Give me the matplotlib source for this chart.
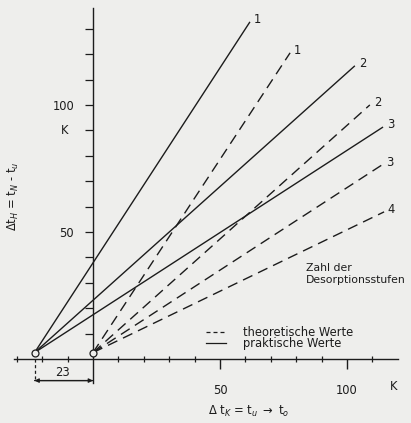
import matplotlib.pyplot as plt
from matplotlib import rcParams
import numpy as np

rcParams["font.family"] = ["DejaVu Sans"]
font_size = 8.3
ink = "#1c1c1c"
bg = "#eeeeec"

# practical values (solid): start point shared, end points per number of stages
prak_start = (-23, 2.5)
prak_labels = ["1", "2", "3"]
prak_end_x = [61.8, 103.1, 114.2]
prak_end_y = [132.7, 115.4, 91.3]

# theoretical values (dashed)
theo_start = (0, 2.5)
theo_labels = ["1", "2", "3", "4"]
theo_end_x = [77.6, 109.0, 113.8, 114.6]
theo_end_y = [120.5, 100.0, 76.4, 57.9]

x_major = [50, 100]
x_minor = [-30, -20, -10, 10, 20, 30, 40, 60, 70, 80, 90, 110]
y_major = [50, 100]
y_minor = [10, 20, 30, 40, 60, 70, 80, 90, 110, 120, 130]


def plot_stages():
    fig = plt.figure(figsize=(4.11, 4.23), dpi=100, facecolor=bg)
    ax = fig.add_axes([0, 0, 1, 1], facecolor=bg)
    ax.set_xlim(-36.6, 125.2)
    ax.set_ylim(-25.2, 141.3)

    for s in ["top", "right"]:
        ax.spines[s].set_visible(False)
    ax.spines["left"].set_position(("data", 0))
    ax.spines["bottom"].set_position(("data", 0))
    ax.spines["left"].set_bounds(-9.5, 138)
    ax.spines["bottom"].set_bounds(-31, 120)
    for s in ["left", "bottom"]:
        ax.spines[s].set_color(ink)
        ax.spines[s].set_linewidth(1.0)

    ax.set_xticks(x_major, [str(v) for v in x_major])
    ax.set_xticks(x_minor, minor=True)
    ax.set_yticks(y_major, [str(v) for v in y_major])
    ax.set_yticks(y_minor, minor=True)
    ax.tick_params(axis="x", which="major", direction="out", length=7, width=1,
                   color=ink, labelsize=font_size, labelcolor=ink, pad=11)
    ax.tick_params(axis="x", which="minor", direction="inout", length=4, width=0.9, color=ink)
    ax.tick_params(axis="y", which="both", direction="out", length=5.5, width=0.9,
                   color=ink, labelsize=font_size, labelcolor=ink, pad=8)

    lw = 1.0
    for lab, ex, ey in zip(prak_labels, prak_end_x, prak_end_y):
        ax.plot([prak_start[0], ex], [prak_start[1], ey], color=ink, lw=lw, solid_capstyle="butt")
        ax.text(ex + 1.5, ey + 0.8, lab, fontsize=font_size, color=ink, ha="left", va="center")
    for lab, ex, ey in zip(theo_labels, theo_end_x, theo_end_y):
        ax.plot([theo_start[0], ex], [theo_start[1], ey], color=ink, lw=lw,
                dashes=(7.5, 4.5), dash_capstyle="butt")
        ax.text(ex + 1.5, ey + 0.8, lab, fontsize=font_size, color=ink, ha="left", va="center")

    # start points
    ax.plot([prak_start[0], theo_start[0]], [prak_start[1], theo_start[1]], "o",
            ms=5, mfc=bg, mec=ink, mew=0.9, zorder=5)

    # dimension 23
    ax.plot([prak_start[0], prak_start[0]], [0, -8.5], color=ink, lw=0.9, dashes=(2.5, 2))
    ax.annotate("", xy=(prak_start[0], -8.5), xytext=(0, -8.5),
                arrowprops=dict(arrowstyle="-|>", color=ink, lw=0.9, mutation_scale=6,
                                shrinkA=0, shrinkB=0))
    ax.annotate("", xy=(0, -8.5), xytext=(prak_start[0], -8.5),
                arrowprops=dict(arrowstyle="-|>", color=ink, lw=0.9, mutation_scale=6,
                                shrinkA=0, shrinkB=0))
    ax.text(-12, -5.2, "23", fontsize=font_size, color=ink, ha="center", va="center")

    # unit labels
    ax.text(-11.3, 89.8, "K", fontsize=font_size, color=ink, ha="center", va="center")
    ax.text(118.5, -11, "K", fontsize=font_size, color=ink, ha="center", va="center")

    ax.text(-31.5, 64, r"$\Delta$t$_H$ = t$_N$ - t$_u$", fontsize=font_size, color=ink,
            rotation=90, ha="center", va="center")
    ax.text(61.5, -20.5, r"$\Delta$ t$_K$ = t$_u$ $\rightarrow$ t$_o$", fontsize=font_size,
            color=ink, ha="center", va="center")

    ax.text(84.0, 33.5, "Zahl der\nDesorptionsstufen", fontsize=7.8, color=ink,
            ha="left", va="center", linespacing=1.25)

    # legend
    ax.plot([44.5, 52.5], [10.6, 10.6], color=ink, lw=0.9, dashes=(3.2, 2.4))
    ax.plot([44.5, 52.5], [6.3, 6.3], color=ink, lw=0.9)
    ax.text(59, 10.6, "theoretische Werte", fontsize=font_size, color=ink, ha="left", va="center")
    ax.text(59, 6.0, "praktische Werte", fontsize=font_size, color=ink, ha="left", va="center")

    fig.savefig("out.png", dpi=100, facecolor=bg)


if __name__ == "__main__":
    plot_stages()
